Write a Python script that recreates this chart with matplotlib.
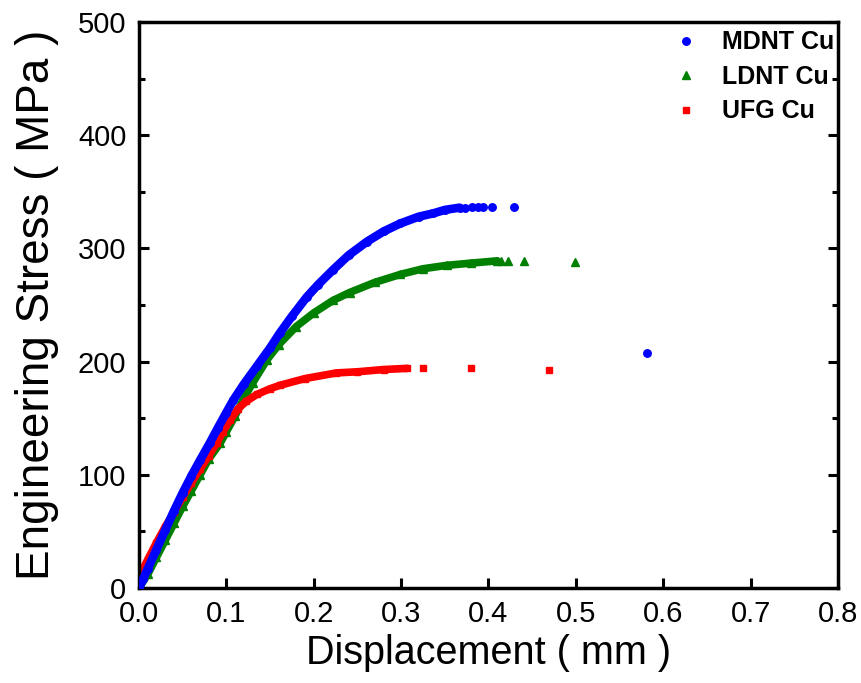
import matplotlib.pyplot as plt

plt.rcParams["font.family"] = ["Liberation Sans", "DejaVu Sans"]

# MDNT Cu (blue circles): dense part of the record, then the sparse end points
mdnt_x = [0.000, 0.005, 0.010, 0.020, 0.030, 0.040, 0.050, 0.060, 0.070, 0.081,
          0.090, 0.100, 0.108, 0.120, 0.135, 0.150, 0.161, 0.175, 0.192, 0.205,
          0.222, 0.240, 0.261, 0.280, 0.299, 0.320, 0.337, 0.350, 0.367]
mdnt_y = [0, 8, 17, 34, 51, 68, 84, 99, 113, 128,
          141, 155, 166, 180, 196, 212, 225, 240, 257, 268,
          281, 294, 306, 315, 322, 328, 331, 334, 336]
mdnt_tail_x = [0.373, 0.381, 0.388, 0.394, 0.404, 0.429, 0.581]
mdnt_tail_y = [336, 337, 337, 337, 337, 337, 208]

# LDNT Cu (green triangles)
ldnt_x = [0.000, 0.010, 0.020, 0.030, 0.040, 0.050, 0.060, 0.070, 0.080, 0.093,
          0.100, 0.110, 0.119, 0.130, 0.146, 0.160, 0.180, 0.200, 0.222, 0.241,
          0.270, 0.299, 0.325, 0.352, 0.380, 0.410]
ldnt_y = [0, 12, 27, 42, 57, 72, 86, 100, 114, 128,
          138, 152, 166, 181, 201, 215, 231, 243, 254, 261,
          270, 277, 282, 285, 287, 289]
ldnt_tail_x = [0.414, 0.422, 0.441, 0.499]
ldnt_tail_y = [289, 289, 289, 288]

# UFG Cu (red squares)
ufg_x = [0.000, 0.010, 0.020, 0.030, 0.040, 0.050, 0.060, 0.070, 0.080, 0.089,
         0.096, 0.104, 0.113, 0.123, 0.135, 0.150, 0.161, 0.190, 0.226, 0.250,
         0.280, 0.307]
ufg_y = [10, 25, 40, 54, 67, 80, 93, 105, 117, 128,
         138, 148, 158, 165, 171, 176, 179, 185, 190, 191,
         193, 194]
ufg_tail_x = [0.325, 0.380, 0.469]
ufg_tail_y = [194, 194, 193]

fig = plt.figure(figsize=(8.61, 6.83), dpi=100)
ax = fig.add_axes([0.1614, 0.1391, 0.8119, 0.8287])

# green first, then red, blue drawn on top
series = [
    (ldnt_x, ldnt_y, ldnt_tail_x, ldnt_tail_y, "green", "^", 5.6, 5.5, "LDNT Cu", 1),
    (ufg_x, ufg_y, ufg_tail_x, ufg_tail_y, "red", "s", 4.6, 5.5, "UFG Cu", 2),
    (mdnt_x, mdnt_y, mdnt_tail_x, mdnt_tail_y, "blue", "o", 5.4, 6.2, "MDNT Cu", 3),
]
handles = {}
for x, y, tx, ty, color, marker, ms, lw, label, z in series:
    ax.plot(x, y, color=color, lw=lw, solid_capstyle="round", zorder=z)
    ax.plot(x, y, ls="none", marker=marker, ms=ms, color=color, mec=color, zorder=z)
    h, = ax.plot(tx, ty, ls="none", marker=marker, ms=ms, color=color, mec=color,
                 zorder=z, label=label)
    handles[label] = h

ax.set_xlim(0, 0.8)
ax.set_ylim(0, 500)
ax.set_xticks([0.0, 0.1, 0.2, 0.3, 0.4, 0.5, 0.6, 0.7, 0.8])
ax.set_xticklabels(["0.0", "0.1", "0.2", "0.3", "0.4", "0.5", "0.6", "0.7", "0.8"])
ax.set_yticks([0, 100, 200, 300, 400, 500])
ax.set_yticks(range(50, 500, 100), minor=True)

for s in ax.spines.values():
    s.set_linewidth(2.5)
ax.tick_params(axis="both", which="major", direction="in", length=7, width=2.2,
               labelsize=21, pad=9)
ax.tick_params(axis="y", which="minor", direction="in", length=4, width=2.2)
ax.tick_params(axis="y", which="both", right=True)
ax.tick_params(axis="x", which="both", top=False)

ax.set_xlabel("Displacement ( mm )", fontsize=28.5, labelpad=4)
ax.set_ylabel("Engineering Stress ( MPa )", fontsize=33, labelpad=14)

order = ["MDNT Cu", "LDNT Cu", "UFG Cu"]
leg = ax.legend([handles[k] for k in order], order, loc="upper left",
                bbox_to_anchor=(0.765, 0.985), frameon=False, borderpad=0,
                borderaxespad=0, handlelength=1.0, handletextpad=0.95,
                labelspacing=0.42, prop={"size": 18, "weight": "bold"})

plt.savefig("out.png", dpi=100)
